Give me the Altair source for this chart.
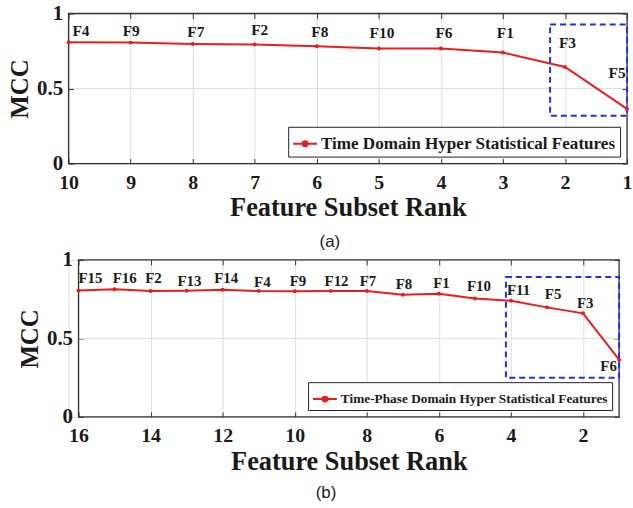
import altair as alt
import pandas as pd

SERIF = "Liberation Serif"
SANS = "Liberation Sans"
RED = "#ee1b1b"
BLUE = "#1f2ff2"
INK = "#1a1a1a"
FRAME = "#333333"

# ---------------- Panel (a) ----------------
rank_a = [10, 9, 8, 7, 6, 5, 4, 3, 2, 1]
feat_a = ["F4", "F9", "F7", "F2", "F8", "F10", "F6", "F1", "F3", "F5"]
mcc_a = [0.808, 0.806, 0.797, 0.793, 0.782, 0.767, 0.767, 0.740, 0.644, 0.364]
label_rank_a = [9.8, 8.99, 7.95, 6.92, 5.95, 4.95, 3.95, 2.96, 1.96, 1.16]
label_mcc_a = [0.885, 0.885, 0.879, 0.89, 0.879, 0.872, 0.868, 0.868, 0.80, 0.60]
box_a = {"x": 2.24, "x2": 1.0, "y": 0.318, "y2": 0.927}
series_a = "Time Domain Hyper Statistical Features"
xticks_a = [10, 9, 8, 7, 6, 5, 4, 3, 2, 1]

# ---------------- Panel (b) ----------------
rank_b = [16, 15, 14, 13, 12, 11, 10, 9, 8, 7, 6, 5, 4, 3, 2, 1]
feat_b = ["F15", "F16", "F2", "F13", "F14", "F4", "F9", "F12", "F7", "F8",
          "F1", "F10", "F11", "F5", "F3", "F6"]
mcc_b = [0.806, 0.814, 0.802, 0.804, 0.810, 0.802, 0.800, 0.802, 0.802, 0.778,
         0.785, 0.755, 0.740, 0.698, 0.660, 0.365]
label_rank_b = [15.67, 14.72, 13.92, 12.92, 11.9, 10.9, 9.91, 8.84, 7.97, 6.97,
                5.93, 4.89, 3.79, 2.83, 1.94, 1.29]
label_mcc_b = [0.888, 0.888, 0.882, 0.867, 0.882, 0.859, 0.863, 0.863, 0.867, 0.846,
               0.852, 0.832, 0.808, 0.78, 0.728, 0.323]
box_b = {"x": 4.14, "x2": 1.0, "y": 0.249, "y2": 0.892}
series_b = "Time-Phase Domain Hyper Statistical Features"
xticks_b = [16, 14, 12, 10, 8, 6, 4, 2]

YTICKS = [0, 0.5, 1]
YGRID = [0.5]
LEGEND_PATH = "M-1,0H1M-0.2,0A0.2,0.2,0,1,1,0.2,0A0.2,0.2,0,1,1,-0.2,0Z"


def panel(rank, feat, mcc, lab_rank, lab_mcc, box, series, xticks, xmax,
          w, inset, h, lab_size, leg_size, caption, title_pad, cap_offset):
    pts = pd.DataFrame({"rank": rank, "feat": feat, "mcc": mcc,
                        "series": [series] * len(rank)})
    labs = pd.DataFrame({"lx": lab_rank, "ly": lab_mcc, "feat": feat})
    boxdf = pd.DataFrame([box])
    framedf = pd.DataFrame({"x": [1], "x2": [xmax], "y": [0], "y2": [1]})
    griddf = pd.DataFrame({"g": YGRID, "x": [1] * len(YGRID), "x2": [xmax] * len(YGRID)})

    xs = alt.Scale(domain=[1, xmax], reverse=True, nice=False, zero=False,
                   range=[inset, w])
    ys = alt.Scale(domain=[0, 1], nice=False, zero=False)

    xaxis = alt.Axis(values=xticks, format="d", labelFont=SERIF, labelFontWeight="bold",
                     labelFontSize=20, labelColor=INK, labelPadding=9, labelFlush=False,
                     title="Feature Subset Rank", titleFont=SERIF, titleFontSize=26.5,
                     titleFontWeight="bold", titleColor=INK, titlePadding=title_pad,
                     grid=True, gridColor="#dedede", gridWidth=1, domain=False,
                     ticks=True, tickSize=5, tickColor=FRAME, offset=-5)
    yaxis = alt.Axis(values=YTICKS, format="~g", labelFont=SERIF, labelFontWeight="bold",
                     labelFontSize=21, labelColor=INK, labelPadding=6, labelFlush=False,
                     title="MCC", titleFont=SERIF, titleFontSize=25, titleFontWeight="bold",
                     titleColor=INK, titlePadding=4,
                     grid=False, domain=False,
                     ticks=True, tickSize=5, tickColor=FRAME, offset=-(5 + inset))

    legend = alt.Legend(orient="bottom-right", offset=7, title=None,
                        strokeColor="#222", fillColor="white", padding=4,
                        symbolType=LEGEND_PATH, symbolSize=576, symbolStrokeWidth=2,
                        symbolStrokeColor=RED, symbolFillColor=RED,
                        labelFont=SERIF, labelFontSize=leg_size, labelFontWeight="bold",
                        labelColor=INK, labelOffset=3, labelLimit=0)

    base = alt.Chart(pts)
    ygrid = alt.Chart(griddf).mark_rule(color="#dedede", strokeWidth=1).encode(
        x=alt.X("x:Q", scale=xs, axis=None),
        x2="x2:Q",
        y=alt.Y("g:Q", scale=ys, axis=None),
    )
    line = base.mark_line(strokeWidth=2).encode(
        x=alt.X("rank:Q", scale=xs, axis=xaxis),
        y=alt.Y("mcc:Q", scale=ys, axis=yaxis),
        color=alt.Color("series:N", scale=alt.Scale(range=[RED]), legend=legend),
    )
    dots = base.mark_point(filled=True, size=16, color=RED, opacity=1).encode(
        x=alt.X("rank:Q", scale=xs, axis=None),
        y=alt.Y("mcc:Q", scale=ys, axis=None),
    )
    frame_axes = base.mark_point(opacity=0).encode(
        x=alt.X("rank:Q", scale=xs, axis=alt.Axis(orient="top", values=xticks, labels=False,
                                                   title=None, grid=False, domain=False,
                                                   tickSize=5, tickColor=FRAME, offset=-5)),
        y=alt.Y("mcc:Q", scale=ys, axis=alt.Axis(orient="right", values=YTICKS, labels=False,
                                                  title=None, grid=False, domain=False,
                                                  tickSize=5, tickColor=FRAME, offset=-5)),
    )
    frame = alt.Chart(framedf).mark_rect(fill="white", fillOpacity=0, stroke=FRAME,
                                         strokeWidth=1.3).encode(
        x=alt.X("x:Q", scale=xs, axis=None),
        x2="x2:Q",
        y=alt.Y("y:Q", scale=ys, axis=None),
        y2="y2:Q",
    )
    texts = alt.Chart(labs).mark_text(font=SERIF, fontWeight="bold", fontSize=lab_size,
                                      color=INK).encode(
        x=alt.X("lx:Q", scale=xs, axis=None),
        y=alt.Y("ly:Q", scale=ys, axis=None),
        text="feat:N",
    )
    rect = alt.Chart(boxdf).mark_rect(fill="white", fillOpacity=0, stroke=BLUE,
                                      strokeWidth=2, strokeDash=[6, 4]).encode(
        x=alt.X("x:Q", scale=xs, axis=None),
        x2="x2:Q",
        y=alt.Y("y:Q", scale=ys, axis=None),
        y2="y2:Q",
    )
    layers = [ygrid, line, frame_axes, frame, rect, dots, texts]
    ch = alt.layer(*layers).resolve_axis(x="independent", y="independent").properties(
        width=w, height=h,
        title=alt.TitleParams(caption, orient="bottom", font=SANS, fontSize=17,
                              fontWeight="normal", color=INK, anchor="middle",
                              frame="group", dx=-18, offset=cap_offset),
    )
    return ch


chart_a = panel(rank_a, feat_a, mcc_a, label_rank_a, label_mcc_a, box_a, series_a,
                xticks_a, 10, 562, 0, 151, 15.5, 17.2, "(a)", 2, 13)
chart_b = panel(rank_b, feat_b, mcc_b, label_rank_b, label_mcc_b, box_b, series_b,
                xticks_b, 16, 554, 10, 158, 15, 13.4, "(b)", 3, 10)

chart = alt.concat(chart_a, chart_b, columns=1, spacing=-2).resolve_scale(
    color="independent").resolve_legend(color="independent").properties(
    padding={"left": 7, "top": 0, "right": 0, "bottom": 0}
).configure_view(strokeWidth=0).configure(background="white")

chart.save("out.html", embed_options={"renderer": "svg", "actions": False})
